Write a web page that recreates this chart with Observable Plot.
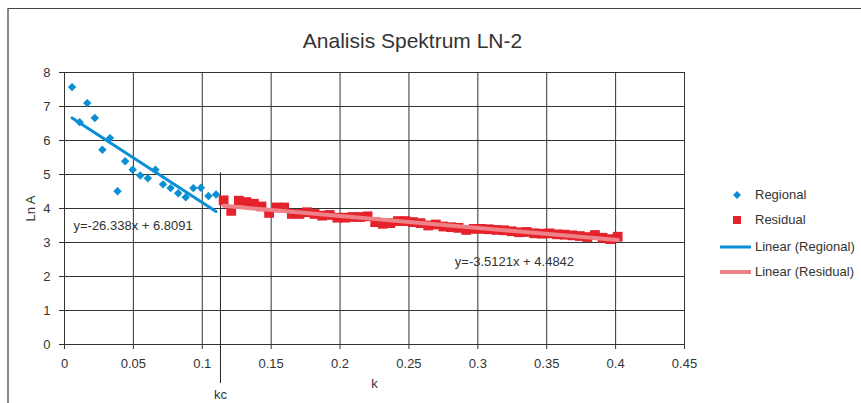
<!DOCTYPE html>
<html>
<head>
<meta charset="utf-8">
<script src="https://cdn.jsdelivr.net/npm/d3@7"></script>
<script src="https://cdn.jsdelivr.net/npm/@observablehq/plot@0.6"></script>
<style>
  html, body { margin: 0; padding: 0; background: #fff; }
  #wrap { position: relative; width: 861px; height: 403px; overflow: hidden; font-family: "Liberation Sans", Arial, sans-serif; }
  #chart { position: absolute; left: 0; top: 0; }
  #border { position: absolute; left: 7px; top: 8px; width: 900px; height: 420px; border-top: 1.5px solid #444; border-left: 2px solid #8a8a8a; pointer-events: none; }
  .lg { position: absolute; font-size: 13px; color: #333; line-height: 16px; white-space: nowrap; }
  .sym { position: absolute; }
</style>
</head>
<body>
<div id="wrap">
  <div id="chart"></div>
  <div id="border"></div>
  <div id="legend"></div>
</div>
<script>
// ---- Data ----
const title = "Analisis Spektrum LN-2";
const xLabel = "k";
const yLabel = "Ln A";

const kRegional = [0.0055, 0.011, 0.0165, 0.022, 0.0275, 0.033, 0.0385, 0.044, 0.0495, 0.055,
                   0.0605, 0.066, 0.0715, 0.077, 0.0825, 0.088, 0.0935, 0.099, 0.1045, 0.11];
const lnARegional = [7.57, 6.54, 7.10, 6.66, 5.73, 6.07, 4.51, 5.39, 5.14, 4.97,
                     4.89, 5.14, 4.71, 4.60, 4.45, 4.33, 4.60, 4.61, 4.37, 4.41];

const kResidual = [0.1155, 0.121, 0.1265, 0.132, 0.1375, 0.143, 0.1485, 0.154, 0.1595, 0.165,
                   0.1705, 0.176, 0.1815, 0.187, 0.1925, 0.198, 0.2035, 0.209, 0.2145, 0.22,
                   0.2255, 0.231, 0.2365, 0.242, 0.2475, 0.253, 0.2585, 0.264, 0.2695, 0.275,
                   0.2805, 0.286, 0.2915, 0.297, 0.3025, 0.308, 0.3135, 0.319, 0.3245, 0.33,
                   0.3355, 0.341, 0.3465, 0.352, 0.3575, 0.363, 0.3685, 0.374, 0.3795, 0.385,
                   0.3905, 0.396, 0.4015];
const lnAResidual = [4.24, 3.93, 4.23, 4.19, 4.14, 4.06, 3.87, 4.03, 4.03, 3.84,
                     3.84, 3.89, 3.84, 3.79, 3.81, 3.73, 3.73, 3.75, 3.75, 3.77,
                     3.60, 3.55, 3.57, 3.63, 3.63, 3.60, 3.57, 3.50, 3.53, 3.47,
                     3.45, 3.43, 3.37, 3.40, 3.40, 3.39, 3.37, 3.36, 3.33, 3.30,
                     3.31, 3.27, 3.26, 3.27, 3.24, 3.23, 3.21, 3.19, 3.16, 3.22,
                     3.14, 3.10, 3.17];

// Linear trend coefficients (from the chart's equations)
const fitNames = ["Regional", "Residual"];
const fitSlopes = [-26.338, -3.5121];
const fitIntercepts = [6.8091, 4.4842];
const fitLabels = ["y=-26.338x + 6.8091", "y=-3.5121x + 4.4842"];
const fitLabelX = [0.0065, 0.2833];
const fitLabelY = [3.48, 2.42];

const kc = 0.1132;
const kcTop = 5.05;
const kcBottom = -1.15;
const kcLabelY = -1.47;

const xTicks = [0, 0.05, 0.1, 0.15, 0.2, 0.25, 0.3, 0.35, 0.4, 0.45];
const xTickLabels = ["0", "0.05", "0.1", "0.15", "0.2", "0.25", "0.3", "0.35", "0.4", "0.45"];
const yTicks = [0, 1, 2, 3, 4, 5, 6, 7, 8];

const colRegional = "#0b8fd4";
const colResidual = "#e5222b";
const colResLine = "#ee8288";

// ---- Build tables ----
const regional = kRegional.map((k, i) => ({k, v: lnARegional[i]}));
const residual = kResidual.map((k, i) => ({k, v: lnAResidual[i]}));
const fitRanges = [[kRegional[0], kRegional[kRegional.length - 1]], [kResidual[0], kResidual[kResidual.length - 1]]];
const fitLines = fitNames.map((n, j) => fitRanges[j].map(k => ({k, v: fitSlopes[j] * k + fitIntercepts[j]})));
const fitText = fitLabels.map((t, j) => ({t, k: fitLabelX[j], v: fitLabelY[j]}));

const plot = Plot.plot({
  width: 861,
  height: 403,
  marginLeft: 64,
  marginRight: 177,
  marginTop: 72,
  marginBottom: 59,
  style: {fontFamily: "Liberation Sans, Arial, sans-serif", fontSize: "13px", color: "#333", background: "transparent", overflow: "visible"},
  x: {domain: [0, 0.45]},
  y: {domain: [0, 8]},
  marks: [
    Plot.gridX(xTicks, {stroke: "#333", strokeOpacity: 1, strokeWidth: 1}),
    Plot.gridY(yTicks, {stroke: "#333", strokeOpacity: 1, strokeWidth: 1}),
    Plot.axisX(xTicks, {tickSize: 5, tickPadding: 9, tickFormat: (d, i) => xTickLabels[i], label: null, fontSize: 13, stroke: "#333", color: "#333"}),
    Plot.axisY(yTicks, {tickSize: 5, tickPadding: 9, label: null, fontSize: 13, stroke: "#333"}),
    Plot.ruleX([0], {stroke: "#333"}),
    Plot.ruleY([0], {stroke: "#333"}),
    Plot.ruleX([kc], {y1: kcBottom, y2: kcTop, stroke: "#222", strokeWidth: 1}),
    Plot.text(["kc"], {x: kc, y: kcLabelY, fill: "#333", fontSize: 13}),
    Plot.dot(regional, {x: "k", y: "v", symbol: "diamond2", r: 3.8, fill: colRegional, stroke: "none"}),
    Plot.dot(residual, {x: "k", y: "v", symbol: "square", r: 5.5, fill: colResidual, stroke: "none"}),
    Plot.line(fitLines[0], {x: "k", y: "v", stroke: colRegional, strokeWidth: 3}),
    Plot.line(fitLines[1], {x: "k", y: "v", stroke: colResLine, strokeWidth: 4}),
    Plot.text(fitText, {x: "k", y: "v", text: "t", textAnchor: "start", fill: "#333", fontSize: 13}),
    Plot.text([title], {frameAnchor: "top", lineAnchor: "middle", textAnchor: "middle", dx: 38, dy: -31, fontSize: 21, fill: "#333"}),
    Plot.text([xLabel], {frameAnchor: "bottom", lineAnchor: "middle", textAnchor: "middle", dy: 39, fontSize: 13, fill: "#333"}),
    Plot.text([yLabel], {frameAnchor: "left", lineAnchor: "middle", textAnchor: "middle", dx: -34, rotate: -90, fontSize: 13, fill: "#333"})
  ]
});
document.getElementById("chart").appendChild(plot);

// ---- Legend ----
const legendItems = [
  {name: "Regional", kind: "diamond", color: colRegional, y: 195},
  {name: "Residual", kind: "square", color: colResidual, y: 220},
  {name: "Linear (Regional)", kind: "line", color: colRegional, y: 247, w: 3},
  {name: "Linear (Residual)", kind: "line", color: colResLine, y: 272, w: 4}
];
const lg = document.getElementById("legend");
legendItems.forEach(it => {
  const s = document.createElementNS("http://www.w3.org/2000/svg", "svg");
  s.setAttribute("class", "sym");
  s.setAttribute("width", 34); s.setAttribute("height", 12);
  s.style.left = "719px"; s.style.top = (it.y - 6) + "px";
  if (it.kind === "diamond") {
    s.innerHTML = `<path d="M18,2 L22,6 L18,10 L14,6 Z" fill="${it.color}"/>`;
  } else if (it.kind === "square") {
    s.innerHTML = `<rect x="14" y="2" width="8" height="8" fill="${it.color}"/>`;
  } else {
    s.innerHTML = `<line x1="1" x2="32" y1="6" y2="6" stroke="${it.color}" stroke-width="${it.w}"/>`;
  }
  lg.appendChild(s);
  const t = document.createElement("div");
  t.className = "lg";
  t.textContent = it.name;
  t.style.left = "755px"; t.style.top = (it.y - 8) + "px";
  lg.appendChild(t);
});
</script>
</body>
</html>
